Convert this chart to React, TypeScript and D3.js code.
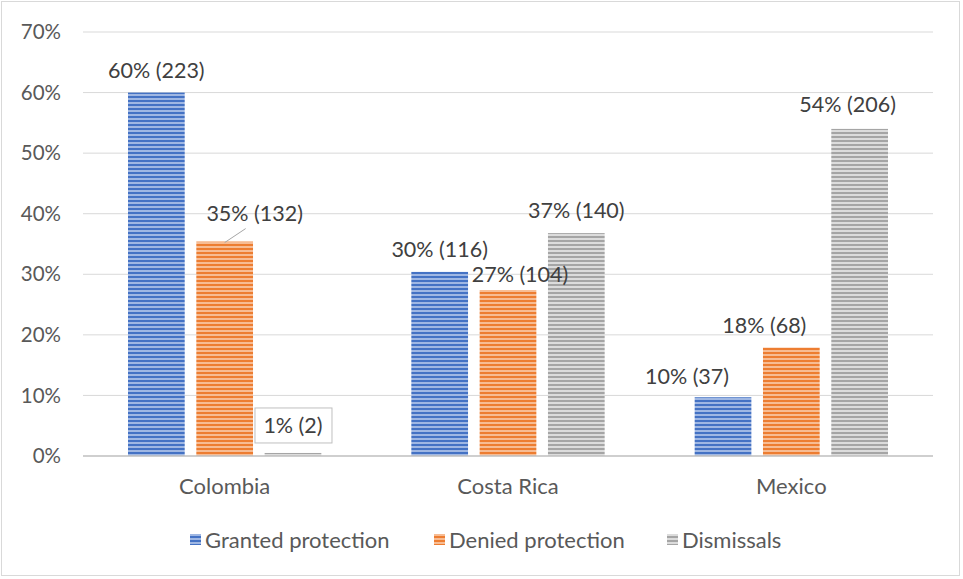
import React, { useEffect, useRef } from 'react';
import * as d3 from 'd3';

const categories = ['Colombia', 'Costa Rica', 'Mexico'];
const seriesNames = ['Granted protection', 'Denied protection', 'Dismissals'];
const granted = [60, 30.4, 9.7];
const denied = [35.4, 27.4, 17.9];
const dismissals = [0.5, 36.8, 54];
const labels = [
  ['60% (223)', '30% (116)', '10% (37)'],
  ['35% (132)', '27% (104)', '18% (68)'],
  ['1% (2)', '37% (140)', '54% (206)'],
];
const yTicks = [0, 10, 20, 30, 40, 50, 60, 70];

const W = 963;
const H = 579;
const FONT = 'Lato, "Open Sans", sans-serif';

const colors = [
  { dark: '#4472c4', light: '#9fb7e3' },
  { dark: '#ed7d31', light: '#f7bc93' },
  { dark: '#a5a5a5', light: '#dcdcdc' },
];

// label nudges (Excel moved some labels away from the default spot)
const labelShift: Record<string, [number, number]> = {
  '0-1': [30, -6],
  '1-1': [12, 7],
  '0-2': [0, 0],
  '2-0': [-36, 2],
  '2-1': [-27, 0],
  '2-2': [-12, -2],
};

export default function App() {
  const svgRef = useRef<SVGSVGElement>(null);

  useEffect(() => {
    document.body.style.margin = '0';
    if (!svgRef.current) return;
    const svg = d3.select(svgRef.current);
    svg.selectAll('*').remove();

    const values = [granted, denied, dismissals];
    const left = 83;
    const right = 933;
    const top = 32;
    const bottom = 456;

    const y = d3.scaleLinear().domain([0, 70]).range([bottom, top]);
    const x0 = d3.scaleBand<string>().domain(categories).range([left, right]);
    const x1 = d3
      .scaleBand<string>()
      .domain(seriesNames)
      .range([45, x0.bandwidth() - 45])
      .paddingInner(0.17);

    // chart frame
    svg.append('rect')
      .attr('x', 1.5).attr('y', 1.5)
      .attr('width', W - 5).attr('height', H - 5)
      .attr('fill', '#fff')
      .attr('stroke', '#d9d9d9');

    const defs = svg.append('defs');
    colors.forEach((c, i) => {
      const p = defs.append('pattern')
        .attr('id', `stripe-${i}`)
        .attr('patternUnits', 'userSpaceOnUse')
        .attr('width', 4).attr('height', 4);
      p.append('rect').attr('width', 4).attr('height', 4).attr('fill', c.light);
      p.append('rect').attr('width', 4).attr('height', 2).attr('fill', c.dark);
    });

    // gridlines
    svg.append('g')
      .selectAll('line')
      .data(yTicks.filter((t) => t > 0))
      .join('line')
      .attr('x1', left).attr('x2', right)
      .attr('y1', (d) => y(d)).attr('y2', (d) => y(d))
      .attr('stroke', '#d9d9d9')
      .attr('stroke-width', 1);

    // y tick labels
    svg.append('g')
      .selectAll('text')
      .data(yTicks)
      .join('text')
      .attr('x', 61)
      .attr('y', (d) => y(d))
      .attr('dy', '0.35em')
      .attr('text-anchor', 'end')
      .attr('font-family', FONT)
      .attr('font-size', 20.5)
      .attr('fill', '#595959')
      .text((d) => `${d}%`);

    // bars
    seriesNames.forEach((s, si) => {
      const g = svg.append('g');
      g.selectAll('rect')
        .data(values[si])
        .join('rect')
        .attr('x', (_, ci) => (x0(categories[ci]) ?? 0) + (x1(s) ?? 0))
        .attr('y', (d) => y(d))
        .attr('width', x1.bandwidth())
        .attr('height', (d) => bottom - y(d))
        .attr('fill', `url(#stripe-${si})`);
    });

    // baseline
    svg.append('line')
      .attr('x1', left).attr('x2', right)
      .attr('y1', bottom).attr('y2', bottom)
      .attr('stroke', '#bfbfbf')
      .attr('stroke-width', 1.5);

    // category labels
    svg.append('g')
      .selectAll('text')
      .data(categories)
      .join('text')
      .attr('x', (d) => (x0(d) ?? 0) + x0.bandwidth() / 2)
      .attr('y', 494)
      .attr('text-anchor', 'middle')
      .attr('font-family', FONT)
      .attr('font-size', 22)
      .attr('fill', '#595959')
      .text((d) => d);

    // data labels
    const lg = svg.append('g');
    seriesNames.forEach((s, si) => {
      values[si].forEach((v, ci) => {
        const cx = (x0(categories[ci]) ?? 0) + (x1(s) ?? 0) + x1.bandwidth() / 2;
        const key = `${ci}-${si}`;
        const [dx, dy] = labelShift[key] ?? [0, 0];
        const ty = y(v) - 15 + dy;
        const tx = cx + dx;
        if (key === '0-2') {
          // boxed label for the tiny bar
          lg.append('rect')
            .attr('x', tx - 38).attr('y', y(v) - 45)
            .attr('width', 77).attr('height', 35)
            .attr('fill', '#fff')
            .attr('stroke', '#bfbfbf');
          lg.append('text')
            .attr('x', tx).attr('y', y(v) - 20)
            .attr('text-anchor', 'middle')
            .attr('font-family', FONT)
            .attr('font-size', 21.5)
            .attr('fill', '#404040')
            .text(labels[si][ci]);
          return;
        }
        if (key === '0-1') {
          lg.append('line')
            .attr('x1', tx - 9).attr('y1', ty + 8)
            .attr('x2', cx).attr('y2', y(v) + 1)
            .attr('stroke', '#a6a6a6')
            .attr('stroke-width', 1);
        }
        lg.append('text')
          .attr('x', tx).attr('y', ty)
          .attr('text-anchor', 'middle')
          .attr('font-family', FONT)
          .attr('font-size', 21.5)
          .attr('fill', '#404040')
          .text(labels[si][ci]);
      });
    });

    // legend
    const legendX = [190, 434, 667];
    const legend = svg.append('g');
    seriesNames.forEach((s, i) => {
      legend.append('rect')
        .attr('x', legendX[i]).attr('y', 534)
        .attr('width', 11).attr('height', 11)
        .attr('fill', `url(#stripe-${i})`);
      legend.append('text')
        .attr('x', legendX[i] + 15).attr('y', 540)
        .attr('dy', '0.35em')
        .attr('font-family', FONT)
        .attr('font-size', 22)
        .attr('fill', '#595959')
        .text(s);
    });
  }, []);

  return <svg ref={svgRef} width={W} height={H} style={{ display: 'block' }} />;
}
